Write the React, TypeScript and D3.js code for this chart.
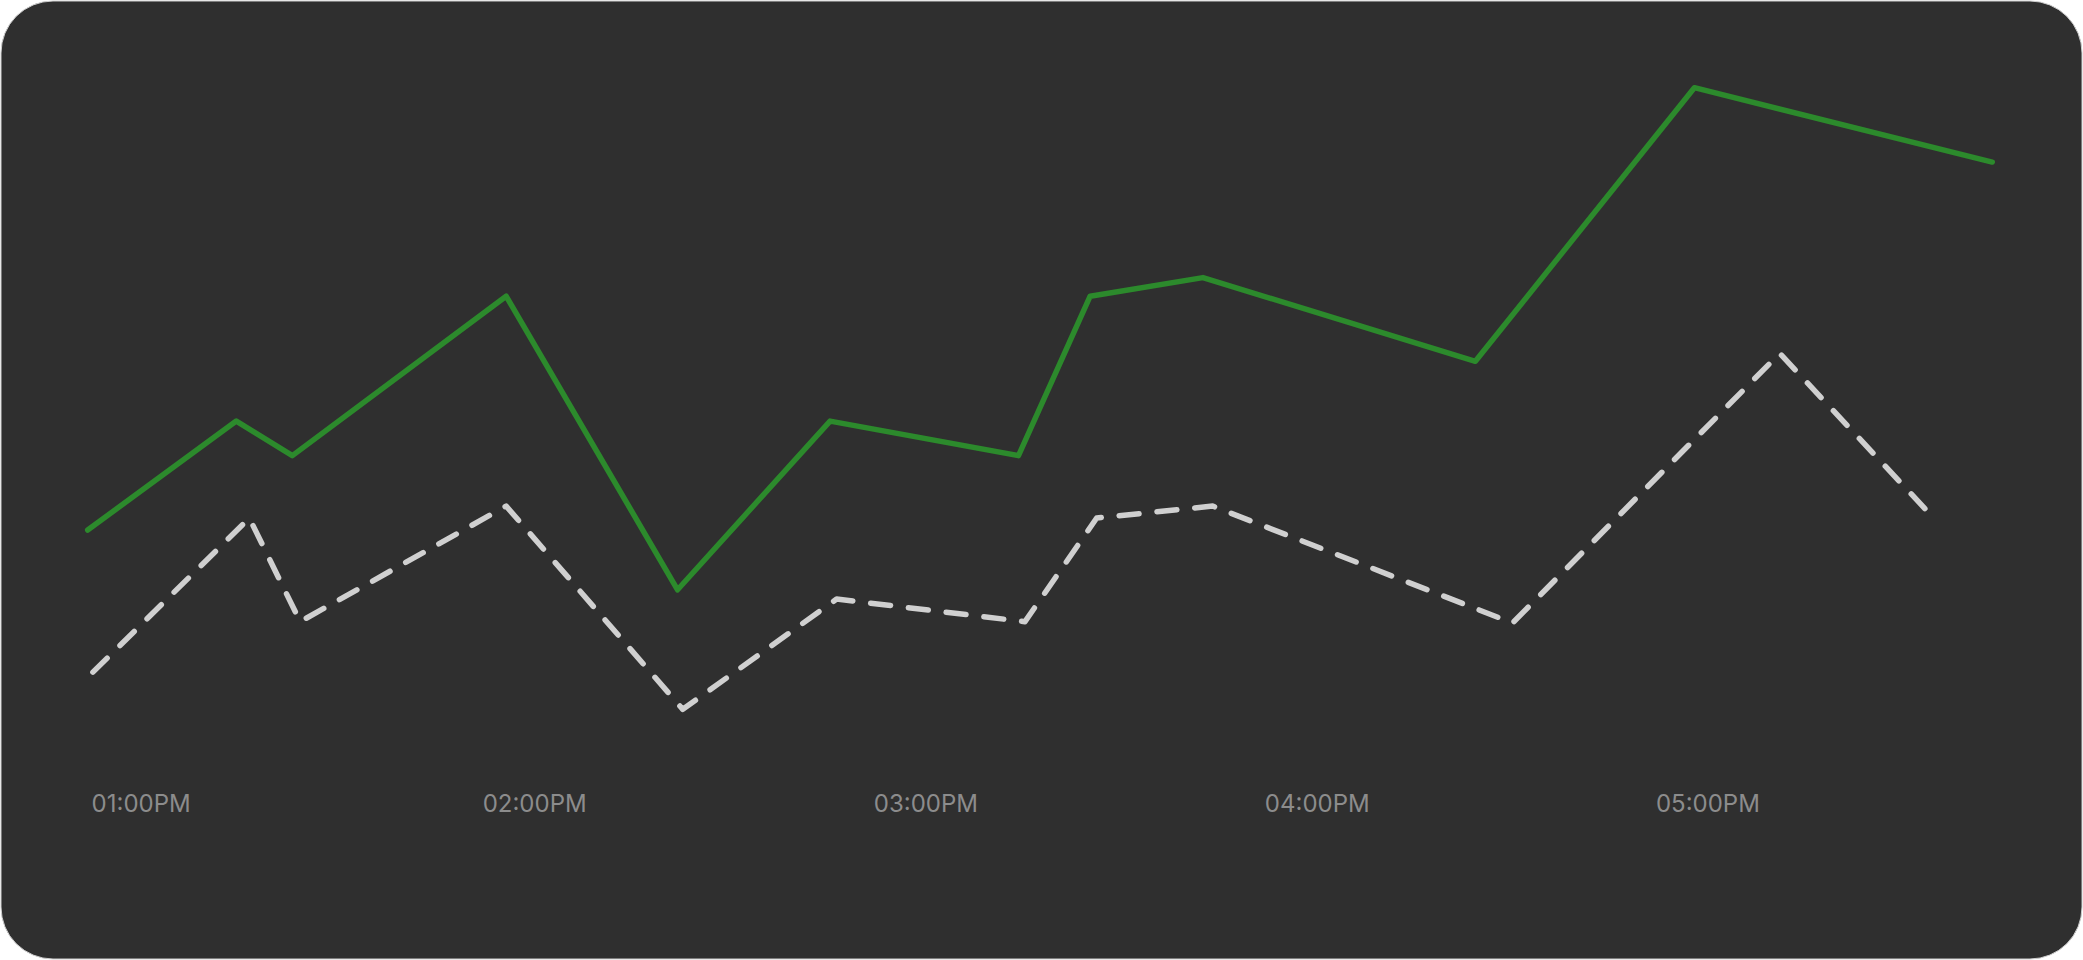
import React from 'react';
import * as d3 from "d3";

// minutes after 01:00PM, and values
const greenTimes = [-0.6, 22.2, 30.8, 63.6, 89.9, 113.3, 142.2, 153.2, 170.5, 212.3, 245.9, 291.6];
const greenValues = [201, 283, 257, 377, 156, 283, 257, 377, 391, 328, 534, 478];
const grayTimes = [0.2, 24.2, 32, 63.6, 90.7, 114.3, 143.2, 154.2, 172, 218, 259, 283];
const grayValues = [94, 210, 132, 219, 66, 149, 132, 210, 219, 131, 334, 208];
const tickTimes = [0, 60, 120, 180, 240];
const tickLabels = ["01:00PM", "02:00PM", "03:00PM", "04:00PM", "05:00PM"];

const W = 2083;
const H = 960;

const App = () => {
    const x = d3.scaleLinear().domain([0, 300]).range([91.6, 2047]);
    const y = d3.scaleLinear().domain([0, 600]).range([797, 0]);

    const line = d3.line<[number, number]>()
        .x((d) => x(d[0]))
        .y((d) => y(d[1]));

    const green = greenTimes.map((t, i) => [t, greenValues[i]] as [number, number]);
    const gray = grayTimes.map((t, i) => [t, grayValues[i]] as [number, number]);

    return (
        <svg width={W} height={H} style={{ position: "absolute", left: 0, top: 0 }}>
            <rect x={0} y={0} width={W} height={H} fill="#ffffff" />
            <rect x={1} y={1} width={W - 2} height={H - 2} rx={52} ry={52} fill="#2f2f2f" stroke="#cfcfcf" strokeWidth={1} />
            <path d={line(gray) || ""} fill="none" stroke="#d0d0d0" strokeWidth={5.5}
                strokeDasharray="20 18" strokeLinecap="round" strokeLinejoin="round" />
            <path d={line(green) || ""} fill="none" stroke="#2c8a2c" strokeWidth={5.5}
                strokeLinecap="round" strokeLinejoin="round" />
            {tickTimes.map((t, i) => (
                <text key={t} x={x(t)} y={812} fill="#8c8c8c" fontSize={24}
                    fontFamily="Inter, 'Noto Sans', sans-serif">{tickLabels[i]}</text>
            ))}
        </svg>
    );
};

export default App;
